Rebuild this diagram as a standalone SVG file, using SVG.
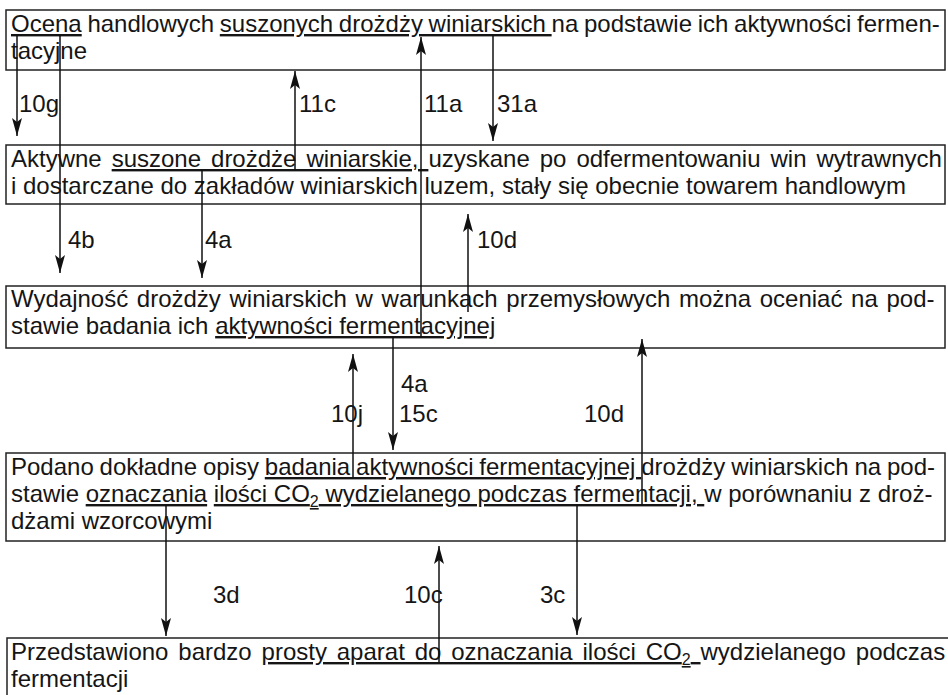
<svg xmlns="http://www.w3.org/2000/svg" width="948" height="695" viewBox="0 0 948 695">
<style>
.box{fill:#fff;stroke:#222;stroke-width:1.5}
.t{font-family:"Liberation Sans",Arial,sans-serif;font-size:24px;fill:#151515}
.u{text-decoration:underline}
.sub{font-size:16px}
.c line{stroke:#111;stroke-width:1.5;marker-end:url(#ah)}
</style>
<defs>
<marker id="ah" markerUnits="userSpaceOnUse" markerWidth="20" markerHeight="12" refX="18" refY="5" orient="auto">
<path d="M0,0 L18,5 L0,10 L4,5 z" fill="#111"/>
</marker>
</defs>
<rect width="948" height="695" fill="#fff"/>
<g id="n1">
<rect class="box" x="6" y="10" width="939" height="60"/>
<text class="t" x="11" y="32" word-spacing="-1"><tspan class="u">Ocena</tspan> handlowych <tspan class="u">suszonych drożdży winiarskich </tspan>na podstawie ich aktywności fermen-</text>
<text class="t" x="11" y="59">tacyjne</text>
</g>
<g id="n2">
<rect class="box" x="6" y="145" width="939" height="59"/>
<text class="t" x="11" y="167" word-spacing="3.3">Aktywne <tspan class="u">suszone drożdże winiarskie, </tspan>uzyskane po odfermentowaniu win wytrawnych</text>
<text class="t" x="11" y="194">i dostarczane do zakładów winiarskich luzem, stały się obecnie towarem handlowym</text>
</g>
<g id="n3">
<rect class="box" x="6" y="286" width="939" height="62"/>
<text class="t" x="11" y="307" word-spacing="2">Wydajność drożdży winiarskich w warunkach przemysłowych można oceniać na pod-</text>
<text class="t" x="11" y="334">stawie badania ich <tspan class="u">aktywności fermentacyjnej</tspan></text>
</g>
<g id="n4">
<rect class="box" x="6" y="453" width="939" height="88"/>
<text class="t" x="11" y="475" word-spacing="-0.8">Podano dokładne opisy <tspan class="u">badania aktywności fermentacyjnej </tspan>drożdży winiarskich na pod-</text>
<text class="t" x="11" y="502">stawie <tspan class="u">oznaczania</tspan> <tspan class="u">ilości CO<tspan class="sub" dy="5">2</tspan><tspan dy="-5"> wydzielanego podczas fermentacji, </tspan></tspan>w porównaniu z droż-</text>
<text class="t" x="11" y="529">dżami wzorcowymi</text>
</g>
<g id="n5">
<rect class="box" x="7" y="638" width="946" height="70"/>
<text class="t" x="11" y="660" word-spacing="3.2">Przedstawiono bardzo <tspan class="u">prosty aparat do oznaczania ilości CO<tspan class="sub" dy="5">2</tspan><tspan dy="-5"> </tspan></tspan>wydzielanego podczas</text>
<text class="t" x="11" y="687">fermentacji</text>
</g>
<g id="connectors" class="c">
<line x1="17" y1="35" x2="17" y2="136"/>
<line x1="60" y1="35" x2="60" y2="273"/>
<line x1="295" y1="170" x2="295" y2="71"/>
<line x1="421" y1="337" x2="421" y2="37"/>
<line x1="493" y1="35" x2="493" y2="141"/>
<line x1="202" y1="170" x2="202" y2="278"/>
<line x1="468" y1="312" x2="468" y2="214"/>
<line x1="393" y1="337" x2="393" y2="450"/>
<line x1="353" y1="478" x2="353" y2="354"/>
<line x1="642" y1="505" x2="642" y2="339"/>
<line x1="166" y1="505" x2="166" y2="636"/>
<line x1="439" y1="663" x2="439" y2="546"/>
<line x1="577" y1="505" x2="577" y2="635"/>
</g>
<g id="labels" class="t">
<text x="19" y="112">10g</text>
<text x="299" y="112">11c</text>
<text x="424" y="112">11a</text>
<text x="497" y="112">31a</text>
<text x="68" y="248">4b</text>
<text x="205" y="248">4a</text>
<text x="477" y="248">10d</text>
<text x="401" y="392">4a</text>
<text x="399" y="422">15c</text>
<text x="331" y="422">10j</text>
<text x="584" y="422">10d</text>
<text x="213" y="603">3d</text>
<text x="404" y="603">10c</text>
<text x="540" y="603">3c</text>
</g>
</svg>
